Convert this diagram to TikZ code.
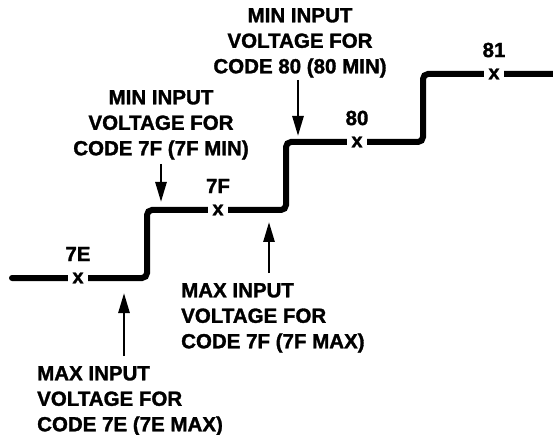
\documentclass[tikz,border=0pt]{standalone}
\usepackage{fontspec}
\setmainfont{Liberation Sans}[BoldFeatures={FakeBold=1.5}]
\usepackage{tikz}
\usetikzlibrary{arrows.meta, positioning, calc}

\tikzset{
  stair/.style={line width=6pt, rounded corners=5pt, line cap=round},
  pointer/.style={line width=2.7pt, -{Triangle[length=20pt,width=11pt]}},
  note/.style={font=\bfseries\fontsize{20.5}{25.5}\selectfont, inner sep=0pt},
  codemark/.style={font=\bfseries\fontsize{20}{24}\selectfont, fill=white, inner xsep=4pt, inner ysep=3pt},
  codelabel/.style={font=\bfseries\fontsize{20.5}{24}\selectfont, inner sep=0pt}
}

\begin{document}
\begin{tikzpicture}[x=1pt, y=-1pt]
  \useasboundingbox (0,0) rectangle (553,435);

  % Staircase corners
  \coordinate (s0) at (12,278);
  \coordinate (k1) at (147,278);
  \coordinate (k2) at (147,210);
  \coordinate (k3) at (286,210);
  \coordinate (k4) at (286,142);
  \coordinate (k5) at (423,142);
  \coordinate (k6) at (423,74);
  \coordinate (s1) at (560,74);

  % Draw staircase
  \draw[stair] (s0) -- (k1) -- (k2) -- (k3) -- (k4) -- (k5) -- (k6) -- (s1);

  % Code marks on each step
  \node[codemark] (x7E) at (78,278) {x};
  \node[codemark] (x7F) at (218,210) {x};
  \node[codemark] (x80) at (357,142) {x};
  \node[codemark] (x81) at (494,74) {x};

  % Code labels
  \node[codelabel] at ($(x7E)+(0,-24)$) {7E};
  \node[codelabel] at ($(x7F)+(0,-24)$) {7F};
  \node[codelabel] at ($(x80)+(0,-24)$) {80};
  \node[codelabel] at ($(x81)+(0,-24)$) {81};

  % Arrow tips on the steps
  \coordinate (p7Emax) at (124,293);
  \coordinate (p7Fmin) at (161,202);
  \coordinate (p7Fmax) at (269,222);
  \coordinate (p80min) at (298,136);

  % Notes
  \node[note, align=left, anchor=north west] (t7Emax) at (37,366)
    {MAX INPUT\\VOLTAGE FOR\\CODE 7E (7E MAX)};
  \node[note, align=center, anchor=north] (t7Fmin) at (161,90)
    {MIN INPUT\\VOLTAGE FOR\\CODE 7F (7F MIN)};
  \node[note, align=left, anchor=north west] (t7Fmax) at (181,283)
    {MAX INPUT\\VOLTAGE FOR\\CODE 7F (7F MAX)};
  \node[note, align=center, anchor=north] (t80min) at (300,8)
    {MIN INPUT\\VOLTAGE FOR\\CODE 80 (80 MIN)};

  % Arrows
  \draw[pointer, shorten <=10pt] (t7Emax.north -| p7Emax) -- (p7Emax);
  \draw[pointer, shorten <=4pt] (t7Fmin.south -| p7Fmin) -- (p7Fmin);
  \draw[pointer, shorten <=10pt] (t7Fmax.north -| p7Fmax) -- (p7Fmax);
  \draw[pointer, shorten <=2pt] (t80min.south -| p80min) -- (p80min);
\end{tikzpicture}
\end{document}
